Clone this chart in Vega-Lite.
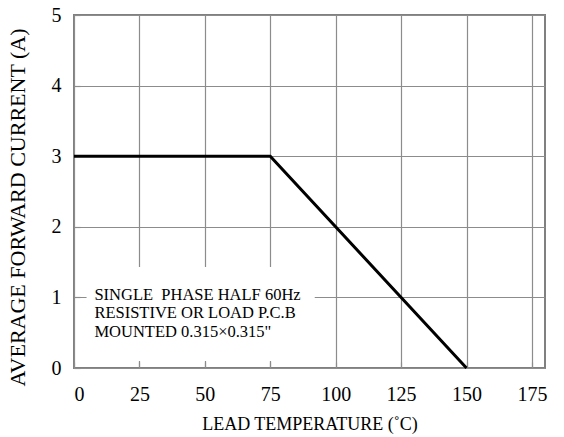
{
  "$schema": "https://vega.github.io/schema/vega-lite/v6.json",
  "width": 471,
  "height": 353,
  "autosize": {"type": "none"},
  "padding": {"left": 74, "top": 15, "right": 19, "bottom": 69},
  "background": "white",
  "config": {
    "view": {"stroke": "#808080", "strokeWidth": 2},
    "font": "Liberation Serif",
    "axis": {
      "domain": false,
      "grid": true,
      "gridColor": "#8c8c8c",
      "gridOpacity": 1,
      "gridWidth": 1.2,
      "tickColor": "#8c8c8c",
      "tickSize": -6,
      "tickWidth": 1.2,
      "labelFont": "Liberation Serif",
      "labelFontSize": 20,
      "labelColor": "black",
      "titleFont": "Liberation Serif",
      "titleFontSize": 18,
      "titleFontWeight": "normal",
      "titleColor": "black"
    }
  },
  "datasets": {
    "curve": [
      {"temp": 0, "current": 3},
      {"temp": 75, "current": 3},
      {"temp": 150, "current": 0}
    ],
    "box": [
      {"x1": 4.8, "x2": 92, "y1": 0.1, "y2": 1.43}
    ],
    "notes": [
      {"temp": 7.8, "current": 1.034, "label": "SINGLE\u00a0 PHASE HALF 60Hz"},
      {"temp": 7.8, "current": 0.78, "label": "RESISTIVE OR LOAD P.C.B"},
      {"temp": 7.8, "current": 0.51, "label": "MOUNTED 0.315×0.315\""}
    ]
  },
  "layer": [
    {
      "data": {"name": "box"},
      "mark": {"type": "rect", "fill": "white", "stroke": null},
      "encoding": {
        "x": {"field": "x1", "type": "quantitative", "scale": {"domain": [0, 175]},
          "axis": {"values": [0, 25, 50, 75, 100, 125, 150, 175], "format": "d", "title": "LEAD TEMPERATURE (˚C)", "labelPadding": 22, "titlePadding": 11}},
        "x2": {"field": "x2"},
        "y": {"field": "y1", "type": "quantitative", "scale": {"domain": [0, 5]},
          "axis": {"values": [0, 1, 2, 3, 4, 5], "format": "d", "title": "AVERAGE FORWARD CURRENT (A)", "titleFontSize": 22, "titleY": 192, "labelPadding": 19, "titlePadding": 22}},
        "y2": {"field": "y2"}
      }
    },
    {
      "data": {"name": "curve"},
      "mark": {"type": "line", "color": "black", "strokeWidth": 3},
      "encoding": {
        "x": {"field": "temp", "type": "quantitative"},
        "y": {"field": "current", "type": "quantitative"}
      }
    },
    {
      "data": {"name": "notes"},
      "mark": {"type": "text", "align": "left", "baseline": "middle", "font": "Liberation Serif", "fontSize": 16.5, "color": "black"},
      "encoding": {
        "x": {"field": "temp", "type": "quantitative"},
        "y": {"field": "current", "type": "quantitative"},
        "text": {"field": "label"}
      }
    }
  ]
}
